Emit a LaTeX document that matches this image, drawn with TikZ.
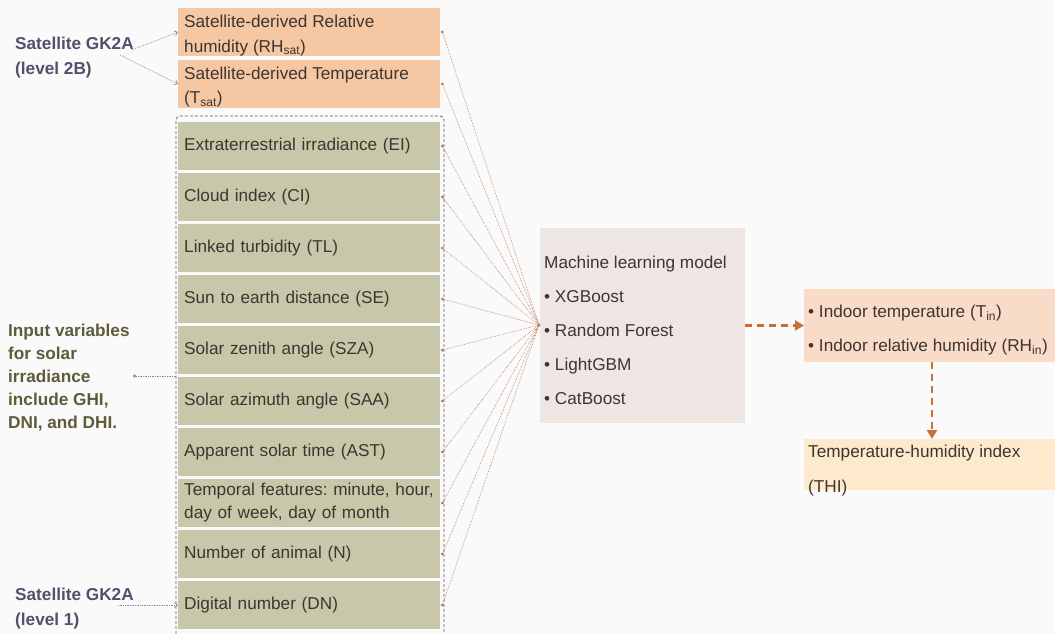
\documentclass[tikz,border=0pt]{standalone}
\usepackage{fontspec}
\setmainfont{Liberation Sans}
\usetikzlibrary{arrows.meta}
\frenchspacing
\definecolor{orbox}{HTML}{F5C7A2}
\definecolor{grbox}{HTML}{C9C7A9}
\definecolor{mlbox}{HTML}{EEE6E3}
\definecolor{inbox}{HTML}{F9DCC8}
\definecolor{thibox}{HTML}{FDE9CB}
\definecolor{txt}{HTML}{3F3530}
\definecolor{conn}{HTML}{B8734C}
\definecolor{arr}{HTML}{C96F30}
\definecolor{satlab}{HTML}{50526C}
\definecolor{inlab}{HTML}{5E5B3A}
\definecolor{gline}{HTML}{8A8A96}
\begin{document}
\begin{tikzpicture}[x=1pt,y=-1pt,
  every node/.style={text=txt, font=\fontsize{17.2}{22}\selectfont},
  varbox/.style={minimum width=262pt, minimum height=48pt, text width=250pt, inner xsep=6pt, inner ysep=0pt, align=left, anchor=west},
  obox/.style={varbox, fill=orbox},
  gbox/.style={varbox, fill=grbox},
  otext/.style={align=left, anchor=west, inner sep=0pt, font=\fontsize{17.2}{24.5}\selectfont},
  dotc/.style={circle, fill=conn, inner sep=0pt, minimum size=3pt},
  feed/.style={conn, densely dotted, line width=0.6pt},
  bigarrow/.style={draw=arr, line width=2.2pt, dash pattern=on 7pt off 5pt, -{Triangle[length=9pt,width=10pt,fill=arr]}},
  labarrow/.style={gline, densely dotted, line width=0.7pt, -{Straight Barb[length=3pt,width=5pt]}},
  lab/.style={font=\fontsize{17.2}{25}\selectfont\bfseries, align=left, anchor=north west, inner sep=0pt}
]
\useasboundingbox (0,0) rectangle (1055,634);
\fill[white!98!black] (0,0) rectangle (1055,634);

% container
\draw[gline!70!black, densely dashed, line width=0.8pt, rounded corners=4pt] (176,634) -- (176,116) -- (444,116) -- (444,634);

% variable boxes
\node[obox] (rh) at (178,32) {};
\node[otext] (rhtxt) at (184,35.5) {Satellite-derived Relative\\humidity (RH\textsubscript{sat})};
\node[obox] (ts) at (178,84) {};
\node[otext] (tstxt) at (184,87) {Satellite-derived Temperature\\(T\textsubscript{sat})};
\node[gbox] (ei) at (178,146) {Extraterrestrial irradiance (EI)};
\node[gbox] (ci) at (178,197) {Cloud index (CI)};
\node[gbox] (tl) at (178,248) {Linked turbidity (TL)};
\node[gbox] (se) at (178,299) {Sun to earth distance (SE)};
\node[gbox] (sza) at (178,350) {Solar zenith angle (SZA)};
\node[gbox] (saa) at (178,401) {Solar azimuth angle (SAA)};
\node[gbox] (ast) at (178,452) {Apparent solar time (AST)};
\node[gbox, font=\fontsize{17.2}{23}\selectfont] (tf) at (178,503) {\mbox{Temporal features: minute, hour,}\\\mbox{day of week, day of month}};
\node[gbox] (nn) at (178,554) {Number of animal (N)};
\node[gbox] (dn) at (178,605) {Digital number (DN)};

% ML box
\node[fill=mlbox, minimum width=205pt, minimum height=195pt, inner sep=0pt] (ml) at (642.5,325.5) {};
\node[align=left, anchor=west, inner sep=0pt, font=\fontsize{17.2}{34}\selectfont] (mltxt) at (544,330) {Machine learning model\\\textbullet{} XGBoost\\\textbullet{} Random Forest\\\textbullet{} LightGBM\\\textbullet{} CatBoost};
\coordinate (conv) at (539,325);
\node[dotc] (convdot) at (conv) {};

% feed connectors
\foreach \b in {rh,ts,ei,ci,tl,se,sza,saa,ast,tf,nn,dn}{
  \node[dotc] (d\b) at ([xshift=2pt]\b.east) {};
  \draw[feed] (d\b) -- (conv);
}

% outputs
\node[fill=inbox, minimum width=251pt, minimum height=73pt, inner sep=0pt, anchor=north west] (in) at (804,289) {};
\node[align=left, anchor=west, inner sep=0pt, font=\fontsize{17.2}{34}\selectfont] (intxt) at (808,330) {\textbullet{} Indoor temperature (T\textsubscript{in})\\\textbullet{} Indoor relative humidity (RH\textsubscript{in})};
\node[fill=thibox, minimum width=251pt, minimum height=51pt, inner sep=0pt, anchor=north west] (thi) at (804,439) {};
\node[align=left, anchor=west, inner sep=0pt, font=\fontsize{17.2}{35}\selectfont] (thitxt) at (808,470.5) {Temperature-humidity index\\(THI)};

\draw[bigarrow] (ml.east) -- (in.west |- ml.east);
\draw[bigarrow] (932,362) -- (thi.north -| 932,0);

% left labels
\node[lab, text=satlab] (s2b) at (15,37) {Satellite GK2A\\(level 2B)};
\node[lab, text=inlab, font=\fontsize{17.2}{23}\selectfont\bfseries] (iv) at (8,324) {Input variables\\for solar\\irradiance\\include GHI,\\DNI, and DHI.};
\node[lab, text=satlab] (s1) at (15,588) {Satellite GK2A\\(level 1)};

\coordinate (a1) at (132,50);
\coordinate (a2) at (120,55);
\coordinate (a3) at (118,605);
\coordinate (a4) at (176,376);
\coordinate (a5) at (133,376);
\draw[labarrow] (a1) -- (rh.west);
\draw[labarrow] (a2) -- (ts.west);
\draw[labarrow] (a3) -- (dn.west);
\draw[gline, densely dotted, line width=0.7pt, -{Circle[length=3pt]}] (a4) -- (a5);
\end{tikzpicture}
\end{document}
